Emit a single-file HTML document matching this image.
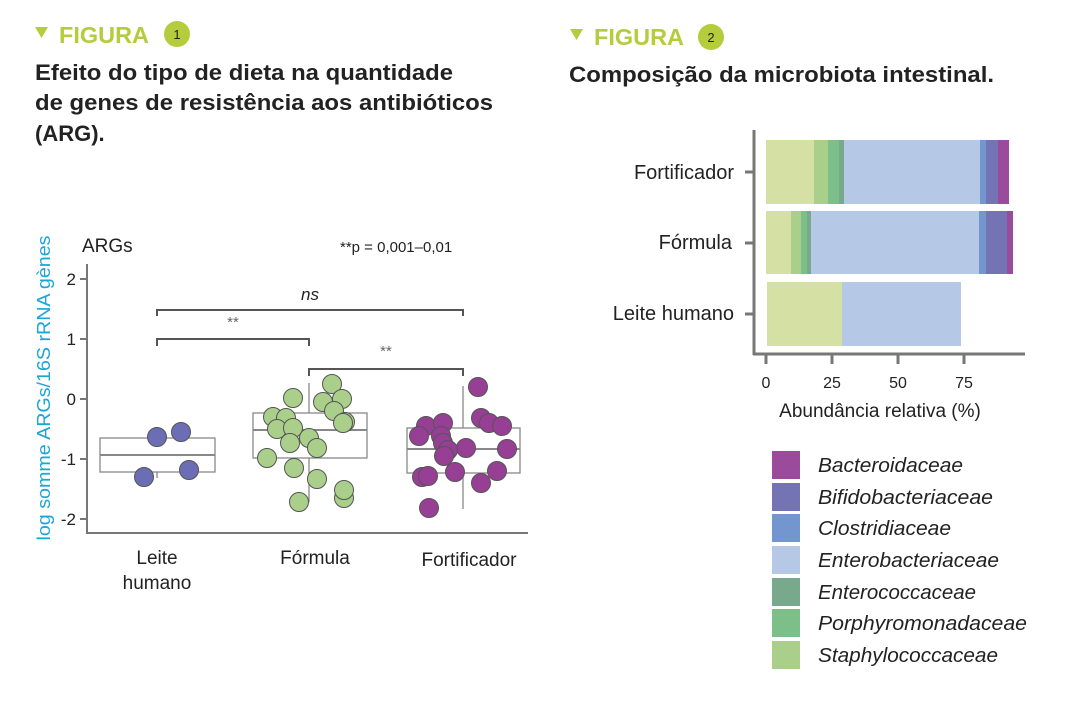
<!DOCTYPE html>
<html><head><meta charset="utf-8"><style>
html,body{margin:0;padding:0;background:#fff;}
svg{display:block;font-family:"Liberation Sans",sans-serif;}
</style></head><body>
<svg width="1070" height="706" viewBox="0 0 1070 706" xmlns="http://www.w3.org/2000/svg">
<!-- Headers -->
<polygon points="35,27 48,27 41.5,38" fill="#b5cc3c"/>
<text x="59" y="43" font-size="23" font-weight="bold" fill="#b5cc3c" textLength="90" lengthAdjust="spacingAndGlyphs">FIGURA</text>
<circle cx="177" cy="34" r="13" fill="#b5cc3c"/>
<text x="177" y="39" font-size="13" text-anchor="middle" fill="#222">1</text>
<polygon points="570,29 583,29 576.5,40" fill="#b5cc3c"/>
<text x="594" y="45" font-size="23" font-weight="bold" fill="#b5cc3c" textLength="90" lengthAdjust="spacingAndGlyphs">FIGURA</text>
<circle cx="711" cy="37" r="13" fill="#b5cc3c"/>
<text x="711" y="42" font-size="13" text-anchor="middle" fill="#222">2</text>

<g font-size="22" font-weight="bold" fill="#222">
<text x="35" y="80" textLength="418" lengthAdjust="spacingAndGlyphs">Efeito do tipo de dieta na quantidade</text>
<text x="35" y="110" textLength="458" lengthAdjust="spacingAndGlyphs">de genes de resistência aos antibióticos</text>
<text x="35" y="141">(ARG).</text>
<text x="569" y="82" textLength="425" lengthAdjust="spacingAndGlyphs">Composição da microbiota intestinal.</text>
</g>

<!-- Left chart -->
<text x="82" y="252" font-size="19" fill="#222">ARGs</text>
<text x="340" y="252" font-size="15" fill="#222">**p = 0,001–0,01</text>
<text transform="translate(50,388) rotate(-90)" font-size="18" fill="#1aa6d6" text-anchor="middle" textLength="305" lengthAdjust="spacingAndGlyphs">log somme ARGs/16S rRNA gènes</text>
<g stroke="#777" stroke-width="2">
<line x1="87" y1="264" x2="87" y2="534"/>
<line x1="86" y1="533" x2="528" y2="533"/>
<line x1="80" y1="279" x2="87" y2="279"/>
<line x1="80" y1="339" x2="87" y2="339"/>
<line x1="80" y1="399" x2="87" y2="399"/>
<line x1="80" y1="459" x2="87" y2="459"/>
<line x1="80" y1="519" x2="87" y2="519"/>
</g>
<g font-size="17" fill="#222" text-anchor="end">
<text x="76" y="285">2</text><text x="76" y="345">1</text><text x="76" y="405">0</text><text x="76" y="465">-1</text><text x="76" y="525">-2</text>
</g>
<!-- brackets -->
<g stroke="#555" stroke-width="2" fill="none">
<polyline points="157,316 157,310 463,310 463,316"/>
<polyline points="157,346 157,339 309,339 309,346"/>
<polyline points="309,376 309,369 463,369 463,376"/>
</g>
<text x="310" y="300" font-size="17" font-style="italic" fill="#222" text-anchor="middle">ns</text>
<text x="233" y="327" font-size="15" fill="#666" text-anchor="middle">**</text>
<text x="386" y="356" font-size="15" fill="#666" text-anchor="middle">**</text>

<!-- boxes -->
<g stroke="#888" stroke-width="1.3" fill="none">
<line x1="157" y1="472" x2="157" y2="478"/>
<rect x="100" y="438" width="115" height="34"/>
<line x1="100" y1="455" x2="215" y2="455" stroke-width="2"/>
<line x1="309" y1="383" x2="309" y2="502"/>
<rect x="253" y="413" width="114" height="45" fill="#fff"/>
<line x1="253" y1="430" x2="367" y2="430" stroke-width="2"/>
<line x1="463" y1="386" x2="463" y2="509"/>
<rect x="407" y="428" width="113" height="45" fill="#fff"/>
<line x1="407" y1="449" x2="520" y2="449" stroke-width="2"/>
</g>
<g stroke="#555" stroke-width="1">
<g fill="#6b6db5">
<circle cx="157" cy="437" r="9.5"/><circle cx="181" cy="432" r="9.5"/><circle cx="144" cy="477" r="9.5"/><circle cx="189" cy="470" r="9.5"/>
</g>
<g fill="#a9cf8a">
<circle cx="332" cy="384" r="9.5"/><circle cx="293" cy="398" r="9.5"/><circle cx="323" cy="402" r="9.5"/><circle cx="342" cy="399" r="9.5"/>
<circle cx="273" cy="417" r="9.5"/><circle cx="286" cy="418" r="9.5"/><circle cx="334" cy="411" r="9.5"/><circle cx="345" cy="422" r="9.5"/><circle cx="343" cy="423" r="9.5"/>
<circle cx="277" cy="429" r="9.5"/><circle cx="293" cy="428" r="9.5"/><circle cx="309" cy="438" r="9.5"/><circle cx="290" cy="443" r="9.5"/><circle cx="317" cy="448" r="9.5"/>
<circle cx="267" cy="458" r="9.5"/><circle cx="294" cy="468" r="9.5"/><circle cx="317" cy="479" r="9.5"/><circle cx="344" cy="498" r="9.5"/><circle cx="344" cy="490" r="9.5"/><circle cx="299" cy="502" r="9.5"/>
</g>
<g fill="#973f95">
<circle cx="478" cy="387" r="9.5"/><circle cx="481" cy="418" r="9.5"/><circle cx="489" cy="423" r="9.5"/><circle cx="502" cy="426" r="9.5"/>
<circle cx="426" cy="426" r="9.5"/><circle cx="443" cy="423" r="9.5"/><circle cx="419" cy="436" r="9.5"/><circle cx="441" cy="436" r="9.5"/><circle cx="443" cy="443" r="9.5"/>
<circle cx="466" cy="448" r="9.5"/><circle cx="448" cy="450" r="9.5"/><circle cx="444" cy="456" r="9.5"/><circle cx="507" cy="449" r="9.5"/>
<circle cx="422" cy="477" r="9.5"/><circle cx="428" cy="476" r="9.5"/><circle cx="455" cy="472" r="9.5"/><circle cx="497" cy="471" r="9.5"/><circle cx="481" cy="483" r="9.5"/><circle cx="429" cy="508" r="9.5"/>
</g>
</g>
<g font-size="19" fill="#222" text-anchor="middle">
<text x="157" y="564">Leite</text><text x="157" y="589">humano</text>
<text x="315" y="564">Fórmula</text>
<text x="469" y="566">Fortificador</text>
</g>

<!-- Right chart -->
<g>
<rect x="766" y="140" width="48" height="64" fill="#d5e1a4"/>
<rect x="814" y="140" width="14" height="64" fill="#a9cf8a"/>
<rect x="828" y="140" width="11" height="64" fill="#7dbf88"/>
<rect x="839" y="140" width="5" height="64" fill="#79a98c"/>
<rect x="844" y="140" width="136" height="64" fill="#b5c8e6"/>
<rect x="980" y="140" width="6" height="64" fill="#7496cf"/>
<rect x="986" y="140" width="12" height="64" fill="#7474b4"/>
<rect x="998" y="140" width="11" height="64" fill="#9b4b9b"/>

<rect x="766" y="211" width="25" height="63" fill="#d5e1a4"/>
<rect x="791" y="211" width="10" height="63" fill="#a9cf8a"/>
<rect x="801" y="211" width="6" height="63" fill="#7dbf88"/>
<rect x="807" y="211" width="4" height="63" fill="#79a98c"/>
<rect x="811" y="211" width="168" height="63" fill="#b5c8e6"/>
<rect x="979" y="211" width="7" height="63" fill="#7496cf"/>
<rect x="986" y="211" width="21" height="63" fill="#7474b4"/>
<rect x="1007" y="211" width="6" height="63" fill="#9b4b9b"/>

<rect x="767" y="282" width="75" height="64" fill="#d5e1a4"/>
<rect x="842" y="282" width="119" height="64" fill="#b5c8e6"/>
</g>
<g stroke="#777" stroke-width="3">
<line x1="754" y1="130" x2="754" y2="355"/>
<line x1="753" y1="354" x2="1025" y2="354"/>
<line x1="745" y1="172" x2="754" y2="172"/>
<line x1="745" y1="243" x2="754" y2="243"/>
<line x1="745" y1="314" x2="754" y2="314"/>
<line x1="766" y1="354" x2="766" y2="364"/>
<line x1="832" y1="354" x2="832" y2="364"/>
<line x1="898" y1="354" x2="898" y2="364"/>
<line x1="964" y1="354" x2="964" y2="364"/>
</g>
<g font-size="20" fill="#222" text-anchor="end">
<text x="734" y="179">Fortificador</text>
<text x="732" y="249">Fórmula</text>
<text x="734" y="320">Leite humano</text>
</g>
<g font-size="16" fill="#222" text-anchor="middle">
<text x="766" y="388">0</text><text x="832" y="388">25</text><text x="898" y="388">50</text><text x="964" y="388">75</text>
</g>
<text x="880" y="417" font-size="19" fill="#222" text-anchor="middle">Abundância relativa (%)</text>

<!-- Legend -->
<g>
<rect x="772" y="451" width="28" height="28" fill="#9b4b9b"/>
<rect x="772" y="483" width="28" height="28" fill="#7474b4"/>
<rect x="772" y="514" width="28" height="28" fill="#7496cf"/>
<rect x="772" y="546" width="28" height="28" fill="#b5c8e6"/>
<rect x="772" y="578" width="28" height="28" fill="#79a98c"/>
<rect x="772" y="609" width="28" height="28" fill="#7dbf88"/>
<rect x="772" y="641" width="28" height="28" fill="#a9cf8a"/>
</g>
<g font-size="20" font-style="italic" fill="#222">
<text x="818" y="472" textLength="145" lengthAdjust="spacingAndGlyphs">Bacteroidaceae</text>
<text x="818" y="504" textLength="175" lengthAdjust="spacingAndGlyphs">Bifidobacteriaceae</text>
<text x="818" y="535" textLength="133" lengthAdjust="spacingAndGlyphs">Clostridiaceae</text>
<text x="818" y="567" textLength="181" lengthAdjust="spacingAndGlyphs">Enterobacteriaceae</text>
<text x="818" y="599" textLength="158" lengthAdjust="spacingAndGlyphs">Enterococcaceae</text>
<text x="818" y="630" textLength="209" lengthAdjust="spacingAndGlyphs">Porphyromonadaceae</text>
<text x="818" y="662" textLength="180" lengthAdjust="spacingAndGlyphs">Staphylococcaceae</text>
</g>
</svg>
</body></html>
